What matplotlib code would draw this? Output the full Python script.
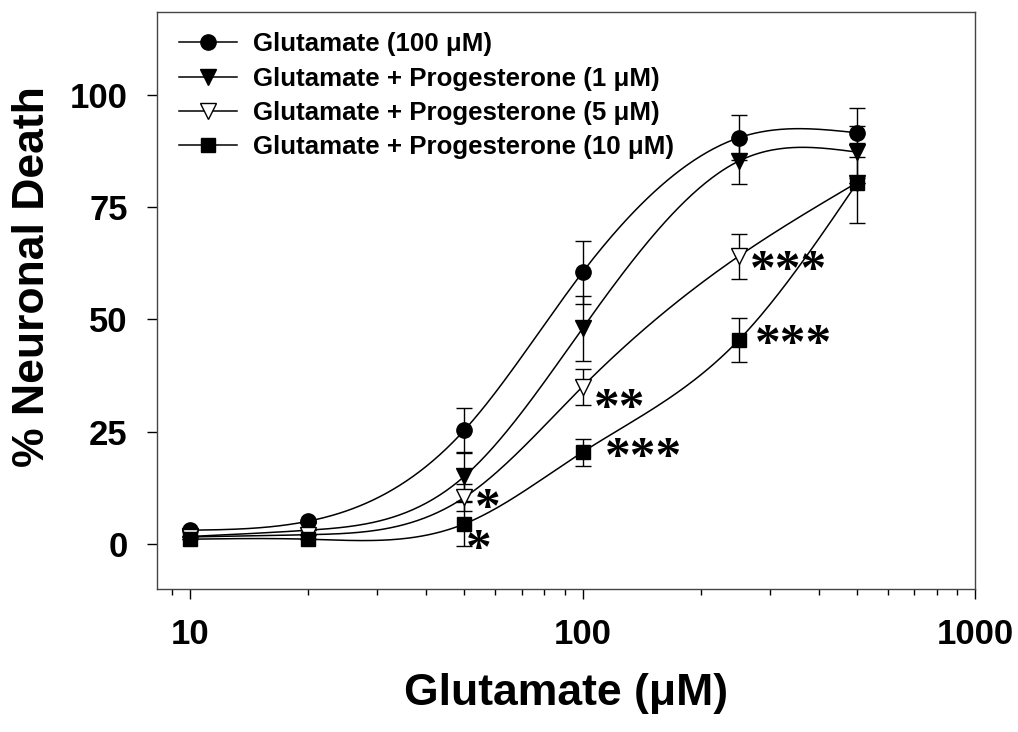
import numpy as np
import matplotlib
matplotlib.use("Agg")
import matplotlib.pyplot as plt
from matplotlib.ticker import FixedLocator, NullFormatter, LogLocator

plt.rcParams['font.family'] = ['Liberation Sans', 'DejaVu Sans']
plt.rcParams['font.weight'] = 'bold'

# glutamate concentrations (uM)
glu = [10, 20, 50, 100, 250, 500]

death_glu = [3.0, 5.0, 25.3, 60.5, 90.5, 91.6]
err_glu = [0, 0, 5.0, 7.0, 5.0, 5.5]

death_p1 = [1.6, 3.0, 15.0, 48.0, 85.3, 87.3]
err_p1 = [0, 0, 5.5, 7.2, 5.0, 5.8]

death_p5 = [1.5, 2.0, 10.3, 35.0, 64.1, 80.5]
err_p5 = [0, 0, 3.0, 4.0, 5.0, 0]

death_p10 = [1.0, 1.0, 4.4, 20.4, 45.4, 80.4]
err_p10 = [0, 0, 5.0, 3.0, 5.0, 9.0]

labels = ['Glutamate (100 \u03bcM)',
          'Glutamate + Progesterone (1 \u03bcM)',
          'Glutamate + Progesterone (5 \u03bcM)',
          'Glutamate + Progesterone (10 \u03bcM)']

# significance marks: (series index, concentration, text)
stars = [(2, 50, '*'), (3, 50, '*'),
         (2, 100, '**'), (3, 100, '***'),
         (2, 250, '***'), (3, 250, '***')]
# where each mark sits relative to its point, in pixels (right, up)
star_offsets = [(11, 0), (2, -14), (11, -10), (22, 6), (11, -3), (16, 7)]


def natural_spline(x, y, xs):
    """Natural cubic spline through (x, y), evaluated at xs."""
    x = np.asarray(x, float)
    y = np.asarray(y, float)
    n = len(x)
    h = np.diff(x)
    A = np.zeros((n, n))
    b = np.zeros(n)
    A[0, 0] = A[-1, -1] = 1.0
    for i in range(1, n - 1):
        A[i, i - 1] = h[i - 1]
        A[i, i] = 2 * (h[i - 1] + h[i])
        A[i, i + 1] = h[i]
        b[i] = 3 * ((y[i + 1] - y[i]) / h[i] - (y[i] - y[i - 1]) / h[i - 1])
    c = np.linalg.solve(A, b)
    out = np.empty_like(xs)
    for j, xv in enumerate(xs):
        i = min(max(np.searchsorted(x, xv) - 1, 0), n - 2)
        d = xv - x[i]
        bi = (y[i + 1] - y[i]) / h[i] - h[i] * (2 * c[i] + c[i + 1]) / 3
        di = (c[i + 1] - c[i]) / (3 * h[i])
        out[j] = y[i] + bi * d + c[i] * d ** 2 + di * d ** 3
    return out


fig = plt.figure(figsize=(10.18, 7.32), dpi=100)
ax = fig.add_axes([0.154, 0.196, 0.804, 0.788])

series = [(death_glu, err_glu, dict(marker='o', ms=11, mfc='black')),
          (death_p1, err_p1, dict(marker='v', ms=12, mfc='black')),
          (death_p5, err_p5, dict(marker='v', ms=12, mfc='white')),
          (death_p10, err_p10, dict(marker='s', ms=10, mfc='black'))]

lx = np.log10(glu)
xs = np.linspace(lx[0], lx[-1], 300)
handles = []
for (vals, errs, style), lab in zip(series, labels):
    ax.plot(10 ** xs, natural_spline(lx, vals, xs), color='black', lw=1.1, zorder=2)
    ax.errorbar(glu, vals, yerr=errs, fmt='none', ecolor='black', elinewidth=1.0,
                capsize=6, capthick=1.0, zorder=3)
    ax.plot(glu, vals, ls='none', color='black', mec='black', mew=1.0, zorder=4, **style)
    h, = ax.plot([], [], color='black', lw=1.1, mec='black', **style)
    handles.append(h)

all_series = [death_glu, death_p1, death_p5, death_p10]
for (idx, conc, txt), (dx, dy) in zip(stars, star_offsets):
    yv = all_series[idx][glu.index(conc)]
    # asterisk glyph centre sits about half an em above the baseline
    ax.annotate(txt, (conc, yv), xytext=(dx, dy - 25), textcoords='offset pixels',
                ha='left', va='baseline', fontsize=37, family='Liberation Serif',
                fontweight='bold')

ax.set_xscale('log')
ax.set_xlim(8.24, 1000)
ax.set_ylim(-10, 118.6)
ax.set_yticks([0, 25, 50, 75, 100])
ax.xaxis.set_major_locator(FixedLocator([10, 100, 1000]))
ax.xaxis.set_minor_locator(LogLocator(base=10, subs=np.arange(2, 10)))
ax.xaxis.set_minor_formatter(NullFormatter())
ax.set_xticklabels(['10', '100', '1000'])
ax.tick_params(axis='both', which='major', direction='out', length=7, width=1,
               labelsize=25, pad=14)
ax.tick_params(axis='x', which='minor', direction='out', length=4, width=1)
for sp in ax.spines.values():
    sp.set_linewidth(1.0)
    sp.set_color('#444444')

ax.set_xlabel('Glutamate (\u03bcM)', fontsize=32, fontweight='bold', labelpad=16)
ax.set_ylabel('% Neuronal Death', fontsize=32, fontweight='bold')
ax.yaxis.set_label_coords(-0.1265, 0.541)

ax.legend(handles, labels, loc='upper left', frameon=False, fontsize=18.6,
          handlelength=2.25, handletextpad=0.62, labelspacing=0.4,
          borderaxespad=0.0, bbox_to_anchor=(0.0147, 0.982))

fig.savefig('out.png', dpi=100)
